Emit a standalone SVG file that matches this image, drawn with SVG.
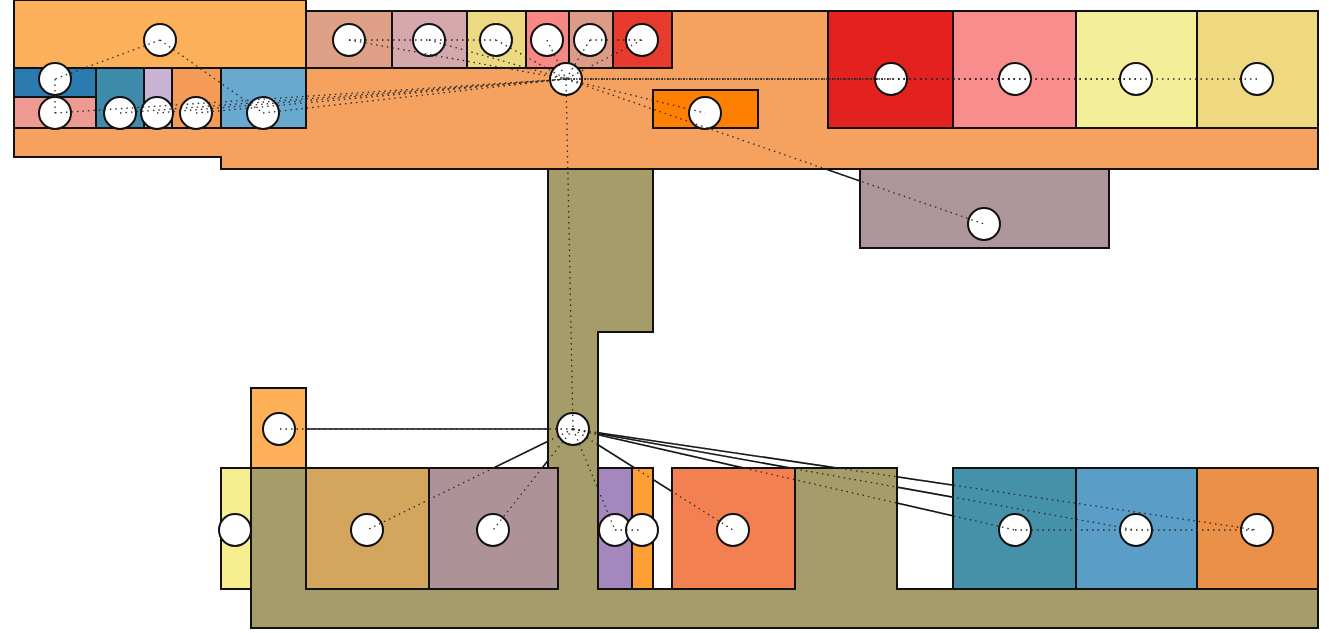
<svg xmlns="http://www.w3.org/2000/svg" xmlns:xlink="http://www.w3.org/1999/xlink" width="1329" height="633" viewBox="0 0 1329 633">
<style>
.room{stroke:#111;stroke-width:2;stroke-linejoin:miter}
.node circle{fill:#fff;stroke:#111;stroke-width:2}
.under use{stroke:#111;stroke-width:1.6;fill:none}
.dot use{stroke:#2a2a2a;stroke-width:1.3;fill:none;stroke-dasharray:1.5 4}
</style>
<defs>
<path id="e1" d="M160,40L55,79"/>
<path id="e2" d="M160,40L263,113"/>
<path id="e3" d="M55,79L55,113"/>
<path id="e4" d="M55,113L566,79"/>
<path id="e5" d="M120,113L566,79"/>
<path id="e6" d="M157,113L566,79"/>
<path id="e7" d="M196,113L566,79"/>
<path id="e8" d="M263,113L566,79"/>
<path id="e9" d="M349,40L429,40"/>
<path id="e10" d="M429,40L496,40"/>
<path id="e11" d="M349,40L566,79"/>
<path id="e12" d="M429,40L566,79"/>
<path id="e13" d="M496,40L566,79"/>
<path id="e14" d="M547,40L566,79"/>
<path id="e15" d="M590,40L566,79"/>
<path id="e16" d="M642,40L566,79"/>
<path id="e17" d="M590,40L642,40"/>
<path id="e18" d="M566,79L705,113"/>
<path id="e19" d="M891,79L566,79"/>
<path id="e20" d="M1015,79L566,79"/>
<path id="e21" d="M1136,79L566,79"/>
<path id="e22" d="M1257,79L566,79"/>
<path id="e23" d="M566,79L984,224"/>
<path id="e24" d="M566,79L573,429"/>
<path id="e25" d="M573,429L279,429"/>
<path id="e26" d="M573,429L367,530"/>
<path id="e27" d="M573,429L493,530"/>
<path id="e28" d="M573,429L615,530"/>
<path id="e29" d="M615,530L642,530"/>
<path id="e30" d="M573,429L733,530"/>
<path id="e31" d="M573,429L1015,530"/>
<path id="e32" d="M573,429L1136,530"/>
<path id="e33" d="M573,429L1257,530"/>
<path id="e34" d="M1015,530L1136,530"/>
<path id="e35" d="M1136,530L1257,530"/>
</defs>
<rect width="1329" height="633" fill="#fff"/>
<g id="connector-underlay" class="under">
<use xlink:href="#e23"/><use xlink:href="#e25"/><use xlink:href="#e26"/><use xlink:href="#e27"/><use xlink:href="#e30"/><use xlink:href="#e31"/><use xlink:href="#e32"/><use xlink:href="#e33"/>
</g>
<g id="plan">
<path id="corridor-top" class="room" fill="#f5a260" d="M14,68H306V11H1318V169H221V157H14Z"/>
<path id="corridor-bottom" class="room" fill="#a69c69" d="M548,169H653V332H598V589H795V468H897V589H1318V628H251V468H548Z"/>
<rect class="room" x="14" y="0" width="292" height="68" fill="#fdb05a"/>
<rect class="room" x="14" y="68" width="82" height="29" fill="#2b7bb0"/>
<rect class="room" x="14" y="97" width="82" height="31" fill="#ec9a92"/>
<rect class="room" x="96" y="68" width="48" height="60" fill="#3f8bab"/>
<rect class="room" x="144" y="68" width="28" height="60" fill="#cab3d5"/>
<rect class="room" x="172" y="68" width="49" height="60" fill="#f49b58"/>
<rect class="room" x="221" y="68" width="85" height="60" fill="#6aa9cf"/>
<rect class="room" x="306" y="11" width="86" height="57" fill="#dea087"/>
<rect class="room" x="392" y="11" width="75" height="57" fill="#d4a8ad"/>
<rect class="room" x="467" y="11" width="59" height="57" fill="#eed983"/>
<rect class="room" x="526" y="11" width="43" height="57" fill="#f88884"/>
<rect class="room" x="569" y="11" width="44" height="57" fill="#dc9b87"/>
<rect class="room" x="613" y="11" width="59" height="57" fill="#e63b2d"/>
<rect class="room" x="653" y="90" width="105" height="38" fill="#ff7f00"/>
<rect class="room" x="828" y="11" width="125" height="117" fill="#e32220"/>
<rect class="room" x="953" y="11" width="123" height="117" fill="#f98d8d"/>
<rect class="room" x="1076" y="11" width="121" height="117" fill="#f3ef98"/>
<rect class="room" x="1197" y="11" width="121" height="117" fill="#eed981"/>
<rect class="room" x="860" y="169" width="249" height="79" fill="#ad9599"/>
<rect class="room" x="251" y="388" width="55" height="80" fill="#fdb058"/>
<rect class="room" x="221" y="468" width="30" height="121" fill="#f7ee8f"/>
<rect class="room" x="306" y="468" width="123" height="121" fill="#d4a65d"/>
<rect class="room" x="429" y="468" width="129" height="121" fill="#ad9397"/>
<rect class="room" x="598" y="468" width="34" height="121" fill="#a487bf"/>
<rect class="room" x="632" y="468" width="21" height="121" fill="#fd9f34"/>
<rect class="room" x="672" y="468" width="123" height="121" fill="#f38050"/>
<rect class="room" x="953" y="468" width="123" height="121" fill="#4591a9"/>
<rect class="room" x="1076" y="468" width="121" height="121" fill="#5a9dc7"/>
<rect class="room" x="1197" y="468" width="121" height="121" fill="#eb9048"/>
</g>
<g id="nodes">
<g id="n1" class="node"><circle cx="160" cy="40" r="16"/></g>
<g id="n2" class="node"><circle cx="55" cy="79" r="16"/></g>
<g id="n3" class="node"><circle cx="55" cy="113" r="16"/></g>
<g id="n4" class="node"><circle cx="120" cy="113" r="16"/></g>
<g id="n5" class="node"><circle cx="157" cy="113" r="16"/></g>
<g id="n6" class="node"><circle cx="196" cy="113" r="16"/></g>
<g id="n7" class="node"><circle cx="263" cy="113" r="16"/></g>
<g id="n8" class="node"><circle cx="349" cy="40" r="16"/></g>
<g id="n9" class="node"><circle cx="429" cy="40" r="16"/></g>
<g id="n10" class="node"><circle cx="496" cy="40" r="16"/></g>
<g id="n11" class="node"><circle cx="547" cy="40" r="16"/></g>
<g id="n12" class="node"><circle cx="590" cy="40" r="16"/></g>
<g id="n13" class="node"><circle cx="642" cy="40" r="16"/></g>
<g id="hub1" class="node"><circle cx="566" cy="79" r="16"/></g>
<g id="n14" class="node"><circle cx="705" cy="113" r="16"/></g>
<g id="n15" class="node"><circle cx="891" cy="79" r="16"/></g>
<g id="n16" class="node"><circle cx="1015" cy="79" r="16"/></g>
<g id="n17" class="node"><circle cx="1136" cy="79" r="16"/></g>
<g id="n18" class="node"><circle cx="1257" cy="79" r="16"/></g>
<g id="n19" class="node"><circle cx="984" cy="224" r="16"/></g>
<g id="hub2" class="node"><circle cx="573" cy="429" r="16"/></g>
<g id="n20" class="node"><circle cx="279" cy="429" r="16"/></g>
<g id="n21" class="node"><circle cx="235" cy="530" r="16"/></g>
<g id="n22" class="node"><circle cx="367" cy="530" r="16"/></g>
<g id="n23" class="node"><circle cx="493" cy="530" r="16"/></g>
<g id="n24" class="node"><circle cx="615" cy="530" r="16"/></g>
<g id="n25" class="node"><circle cx="642" cy="530" r="16"/></g>
<g id="n26" class="node"><circle cx="733" cy="530" r="16"/></g>
<g id="n27" class="node"><circle cx="1015" cy="530" r="16"/></g>
<g id="n28" class="node"><circle cx="1136" cy="530" r="16"/></g>
<g id="n29" class="node"><circle cx="1257" cy="530" r="16"/></g>
</g>
<g id="connectors" class="dot">
<use xlink:href="#e1"/><use xlink:href="#e2"/><use xlink:href="#e3"/><use xlink:href="#e4"/><use xlink:href="#e5"/><use xlink:href="#e6"/><use xlink:href="#e7"/><use xlink:href="#e8"/><use xlink:href="#e9"/><use xlink:href="#e10"/><use xlink:href="#e11"/><use xlink:href="#e12"/><use xlink:href="#e13"/><use xlink:href="#e14"/><use xlink:href="#e15"/><use xlink:href="#e16"/><use xlink:href="#e17"/><use xlink:href="#e18"/><use xlink:href="#e19"/><use xlink:href="#e20"/><use xlink:href="#e21"/><use xlink:href="#e22"/><use xlink:href="#e23"/><use xlink:href="#e24"/><use xlink:href="#e25"/><use xlink:href="#e26"/><use xlink:href="#e27"/><use xlink:href="#e28"/><use xlink:href="#e29"/><use xlink:href="#e30"/><use xlink:href="#e31"/><use xlink:href="#e32"/><use xlink:href="#e33"/><use xlink:href="#e34"/><use xlink:href="#e35"/>
</g>
</svg>
